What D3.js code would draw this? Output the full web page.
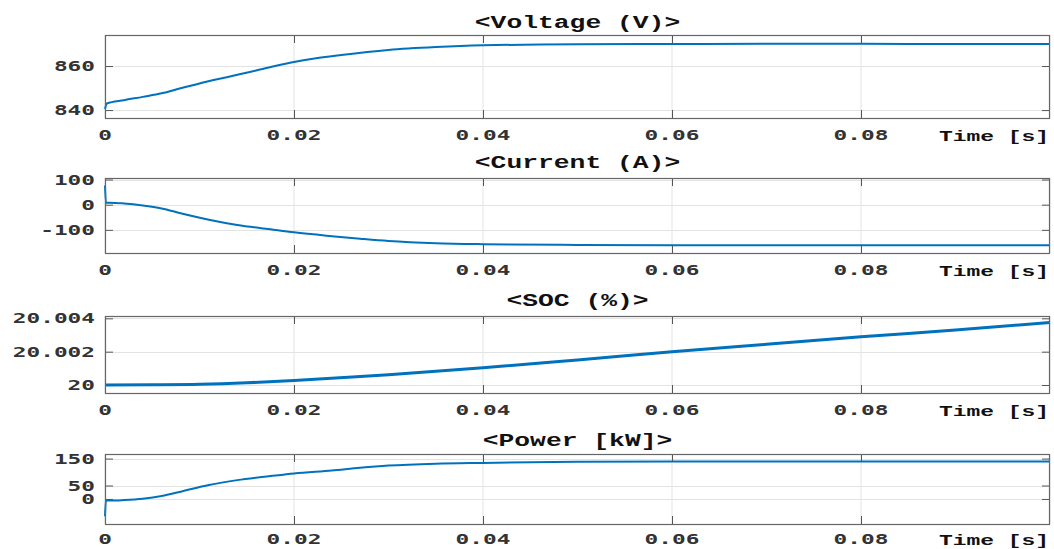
<!DOCTYPE html>
<html>
<head>
<meta charset="utf-8">
<script src="https://cdn.jsdelivr.net/npm/d3@7"></script>
<style>
  body { margin: 0; background: #fff; }
  .canvas { width: 1054px; height: 549px; }
</style>
</head>
<body>
<div class="canvas"></div>
<script>
// values
const xTicks = [0, 0.02, 0.04, 0.06, 0.08];

const timeV = [0, 0.0002, 0.002, 0.004, 0.006, 0.008, 0.01, 0.012, 0.014, 0.016, 0.018, 0.02, 0.022, 0.025, 0.03, 0.035, 0.04, 0.05, 0.06, 0.07, 0.08, 0.09, 0.1];
const voltage = [840.5, 843, 844.5, 846, 847.6, 849.9, 852.1, 854.1, 856, 858, 860, 861.8, 863.3, 865, 867.3, 868.6, 869.4, 869.9, 870, 870.1, 870.1, 870, 870];
const voltageTicks = [840, 860];

const timeI = [0, 0.0001, 0.0005, 0.002, 0.004, 0.006, 0.008, 0.011, 0.014, 0.0175, 0.02, 0.024, 0.027, 0.03, 0.035, 0.04, 0.05, 0.06, 0.07, 0.08, 0.09, 0.1];
const current = [76, 8, 8, 5, -3, -15, -34, -60, -81, -98, -110, -125, -135, -144, -153, -157, -160, -161, -161, -161, -161, -161];
const currentTicks = [-100, 0, 100];

const timeS = [0, 0.005, 0.01, 0.015, 0.02, 0.027, 0.03, 0.04, 0.05, 0.06, 0.07, 0.08, 0.09, 0.1];
const soc = [20, 20.00001, 20.00004, 20.00013, 20.00027, 20.00051, 20.00062, 20.00103, 20.0015, 20.00199, 20.00244, 20.00289, 20.0033, 20.00375];
const socTicks = [20, 20.002, 20.004];

const timeP = [0, 0.0001, 0.0005, 0.002, 0.004, 0.006, 0.008, 0.011, 0.014, 0.0175, 0.02, 0.024, 0.027, 0.03, 0.035, 0.04, 0.05, 0.06, 0.07, 0.08, 0.09, 0.1];
const power = [-64, -6, -6, -4, 1, 11, 27, 52, 70, 85, 95, 106, 116, 124, 131, 134, 138, 139, 139, 139, 139, 139];
const powerTicks = [0, 50, 150];

const dims = { width: 1054, height: 549, left: 105, right: 1050 };
const blue = '#0072bd';

const panels = [
  { title: '<Voltage (V)>', time: timeV, values: voltage, ticks: voltageTicks, domain: [836.4, 874.1], top: 35, bottom: 118, titleY: 28, labelY: 140, lw: 2 },
  { title: '<Current (A)>', time: timeI, values: current, ticks: currentTicks, domain: [-192, 106], top: 178, bottom: 253, titleY: 168, labelY: 275, lw: 2 },
  { title: '<SOC (%)>', time: timeS, values: soc, ticks: socTicks, domain: [19.99952, 20.00414], top: 316, bottom: 393, titleY: 306, labelY: 415, lw: 3 },
  { title: '<Power [kW]>', time: timeP, values: power, ticks: powerTicks, domain: [-93, 167], top: 454, bottom: 524, titleY: 446, labelY: 544, lw: 2 },
];

const svg = d3
  .select('.canvas')
  .append('svg')
  .attr('width', dims.width)
  .attr('height', dims.height);

const x = d3.scaleLinear().domain([0, 0.1]).range([dims.left, dims.right]);

// stretched text, the reference glyphs are wide
const wideText = (sel, perChar) =>
  sel
    .attr('textLength', function () { return this.textContent.length * perChar; })
    .attr('lengthAdjust', 'spacingAndGlyphs');

panels.forEach((p) => {
  const y = d3.scaleLinear().domain(p.domain).range([p.bottom, p.top]);
  const g = svg.append('g');

  // grid
  g.selectAll('.vgrid')
    .data(xTicks.concat([0.1]))
    .enter()
    .append('line')
    .attr('x1', (d) => x(d))
    .attr('x2', (d) => x(d))
    .attr('y1', p.top)
    .attr('y2', p.bottom)
    .attr('stroke', '#e3e3e3')
    .attr('stroke-width', 1);

  g.selectAll('.hgrid')
    .data(p.ticks)
    .enter()
    .append('line')
    .attr('x1', dims.left)
    .attr('x2', dims.right)
    .attr('y1', (d) => Math.round(y(d)) + 0.5)
    .attr('y2', (d) => Math.round(y(d)) + 0.5)
    .attr('stroke', '#e3e3e3')
    .attr('stroke-width', 1);

  // line
  const line = d3
    .line()
    .x((d, i) => x(p.time[i]))
    .y((d) => y(d))
    .curve(d3.curveMonotoneX);

  g.append('path')
    .attr('d', line(p.values))
    .attr('fill', 'none')
    .attr('stroke', blue)
    .attr('stroke-width', p.lw)
    .attr('stroke-linejoin', 'round');

  // axes with inward ticks on all sides
  const tickLen = 8;
  g.append('g')
    .attr('transform', `translate(0, ${p.bottom})`)
    .call(d3.axisBottom(x).tickValues(xTicks).tickSizeInner(-tickLen).tickSizeOuter(0).tickFormat(''));
  g.append('g')
    .attr('transform', `translate(0, ${p.top})`)
    .call(d3.axisTop(x).tickValues(xTicks).tickSizeInner(-tickLen).tickSizeOuter(0).tickFormat(''));
  g.append('g')
    .attr('transform', `translate(${dims.left}, 0)`)
    .call(d3.axisLeft(y).tickValues(p.ticks).tickSizeInner(-tickLen).tickSizeOuter(0).tickFormat(''));
  g.append('g')
    .attr('transform', `translate(${dims.right}, 0)`)
    .call(d3.axisRight(y).tickValues(p.ticks).tickSizeInner(-tickLen).tickSizeOuter(0).tickFormat(''));
  g.selectAll('.domain').remove();
  g.selectAll('.tick line').attr('stroke', '#555');

  g.append('rect')
    .attr('x', dims.left + 0.5)
    .attr('y', p.top + 0.5)
    .attr('width', dims.right - dims.left - 1)
    .attr('height', p.bottom - p.top)
    .attr('fill', 'none')
    .attr('stroke', '#666')
    .attr('stroke-width', 1.2);

  // tick labels
  g.selectAll('.xlab')
    .data(xTicks)
    .enter()
    .append('text')
    .attr('x', (d) => x(d))
    .attr('y', p.labelY)
    .attr('text-anchor', 'middle')
    .attr('font-family', 'DejaVu Sans Mono')
    .attr('font-weight', 'bold')
    .attr('font-size', 14)
    .attr('fill', '#333')
    .text((d) => String(d))
    .call(wideText, 13.7);

  g.selectAll('.ylab')
    .data(p.ticks)
    .enter()
    .append('text')
    .attr('x', dims.left - 10)
    .attr('y', (d) => y(d) + 5)
    .attr('text-anchor', 'end')
    .attr('font-family', 'DejaVu Sans Mono')
    .attr('font-weight', 'bold')
    .attr('font-size', 14)
    .attr('fill', '#333')
    .text((d) => String(d))
    .call(wideText, 13.7);

  g.append('text')
    .attr('x', dims.right - 1)
    .attr('y', p.labelY + 1)
    .attr('text-anchor', 'end')
    .attr('font-family', 'Liberation Mono')
    .attr('font-weight', 'bold')
    .attr('font-size', 15)
    .attr('fill', '#111')
    .text('Time [s]')
    .call(wideText, 13.75);

  g.append('text')
    .attr('x', (dims.left + dims.right) / 2)
    .attr('y', p.titleY)
    .attr('text-anchor', 'middle')
    .attr('font-family', 'Liberation Mono')
    .attr('font-weight', 'bold')
    .attr('font-size', 18)
    .attr('fill', '#111')
    .text(p.title)
    .call(wideText, 15.8);
});
</script>
</body>
</html>
